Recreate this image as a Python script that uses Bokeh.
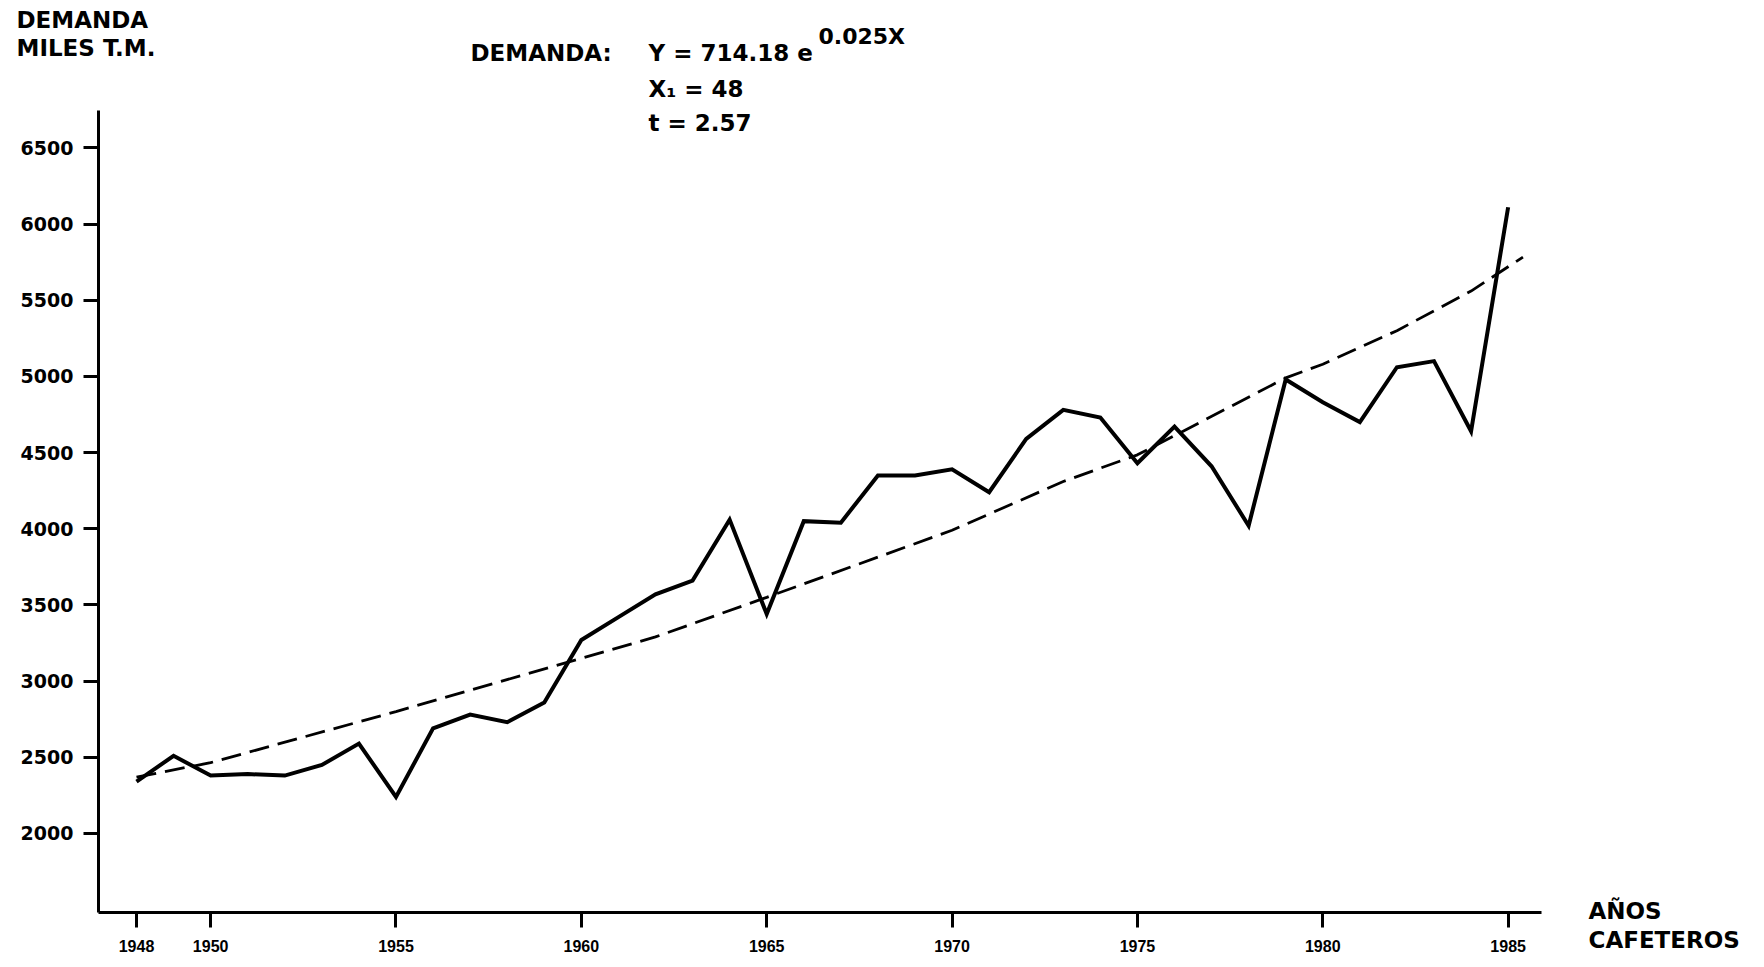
from bokeh.plotting import figure
from bokeh.models import FixedTicker, Label, Range1d
from bokeh.layouts import column, row
from bokeh.core.properties import value
from bokeh.embed import file_html
from bokeh.resources import INLINE

# ---- data ----
years = [1948, 1949, 1950, 1951, 1952, 1953, 1954, 1955, 1956, 1957,
         1958, 1959, 1960, 1961, 1962, 1963, 1964, 1965, 1966, 1967,
         1968, 1969, 1970, 1971, 1972, 1973, 1974, 1975, 1976, 1977,
         1978, 1979, 1980, 1981, 1982, 1983, 1984, 1985]
demanda = [2340, 2510, 2380, 2390, 2380, 2450, 2590, 2240, 2690, 2780,
           2730, 2860, 3270, 3420, 3570, 3660, 4060, 3440, 4050, 4040,
           4350, 4350, 4390, 4240, 4590, 4780, 4730, 4430, 4670, 4410,
           4020, 4980, 4830, 4700, 5060, 5100, 4640, 6110]
trend_years = [1948, 1950, 1955, 1960, 1962, 1965, 1970, 1973, 1975, 1979, 1980, 1982, 1984, 1985.4]
trend_values = [2370, 2465, 2800, 3150, 3290, 3550, 3990, 4310, 4485, 4990, 5080, 5300, 5560, 5783]
x_ticks = [1948, 1950, 1955, 1960, 1965, 1970, 1975, 1980, 1985]
y_ticks = [2000, 2500, 3000, 3500, 4000, 4500, 5000, 5500, 6000, 6500]

FONT = "DejaVu Sans"
TOTAL_W, TOTAL_H, TOP_H = 1760, 960, 100
MAIN_W = 1560
MAIN_H = TOTAL_H - TOP_H
FL, FT, FR, FB = 98, 110, 1541, 912          # frame edges in page px
X0, X1 = 1946.975, 1985.90
Y0, Y1 = 1481.5, 6745
BASE = 8   # alphabetic baseline correction of the svg text

# ---- top strip with the headings ----
top = figure(width=MAIN_W, height=TOP_H, output_backend="svg", toolbar_location=None,
             x_range=Range1d(0, MAIN_W), y_range=Range1d(TOP_H, 0),
             x_axis_type=None, y_axis_type=None, min_border=0)
top.outline_line_color = None
top.grid.visible = False


def ttext(fig, x, y, s, size="23px", style="bold"):
    fig.text(x=[x], y=[y - BASE], text=[s], text_font=value(FONT), text_font_style=style,
             text_font_size=size, text_baseline="alphabetic", text_align="left",
             text_color="black")


ttext(top, 16, 27, "DEMANDA")
ttext(top, 16, 55, "MILES T.M.")
ttext(top, 470, 60, "DEMANDA:")
ttext(top, 648, 60, "Y = 714.18 e")
ttext(top, 818, 44, "0.025X", size="22px")
ttext(top, 648, 96, "X\u2081 = 48")

# ---- main chart ----
p = figure(width=MAIN_W, height=MAIN_H, output_backend="svg", toolbar_location=None,
           x_range=Range1d(X0, X1), y_range=Range1d(Y0, Y1),
           min_border_left=FL, min_border_top=FT - TOP_H,
           min_border_right=MAIN_W - FR, min_border_bottom=TOTAL_H - FB)
p.outline_line_color = None
p.grid.visible = False

xpp = (X1 - X0) / (FR - FL)   # data per pixel
ypp = (Y1 - Y0) / (FB - FT)

for ax, ticks in ((p.xaxis[0], x_ticks), (p.yaxis[0], y_ticks)):
    ax.ticker = FixedTicker(ticks=ticks)
    ax.axis_line_width = 3
    ax.axis_line_color = "black"
    ax.major_tick_line_width = 3
    ax.major_tick_line_color = "black"
    ax.major_tick_in = 0
    ax.minor_tick_line_color = None
    ax.major_label_text_font_style = "bold"
    ax.major_label_text_color = "black"

p.xaxis[0].bounds = (X0 - 15 * xpp, X1)
p.yaxis[0].bounds = (Y0 - 13 * ypp, Y1)
p.xaxis[0].major_tick_out = 15
p.xaxis[0].major_label_standoff = 12
p.xaxis[0].major_label_text_font = "Liberation Sans"
p.xaxis[0].major_label_text_font_size = "16px"
p.yaxis[0].major_tick_out = 15
p.yaxis[0].major_label_standoff = 10
p.yaxis[0].major_label_text_font = FONT
p.yaxis[0].major_label_text_font_size = "19px"

p.line(trend_years, trend_values, line_color="black", line_width=2.8, line_dash="20 9")
p.line(years, demanda, line_color="black", line_width=4, line_join="miter")

p.add_layout(Label(x=X0 + (648 - FL) * xpp, y=Y1 - (130 - BASE - FT) * ypp, text="t = 2.57",
                   text_font=FONT, text_font_style="bold", text_font_size="23px",
                   text_baseline="alphabetic", text_align="left", text_color="black"))

# ---- right strip with the x-axis caption ----
side = figure(width=TOTAL_W - MAIN_W, height=TOTAL_H, output_backend="svg", toolbar_location=None,
              x_range=Range1d(MAIN_W, TOTAL_W), y_range=Range1d(TOTAL_H, 0),
              x_axis_type=None, y_axis_type=None, min_border=0)
side.outline_line_color = None
side.grid.visible = False
ttext(side, 1588, 918, "AÑOS")
ttext(side, 1588, 947, "CAFETEROS")

# each plot wrapped on its own so that Bokeh does not align their frames
layout = row(column(top, row(p)), side)
open("out.html", "w").write(file_html(layout, INLINE))
